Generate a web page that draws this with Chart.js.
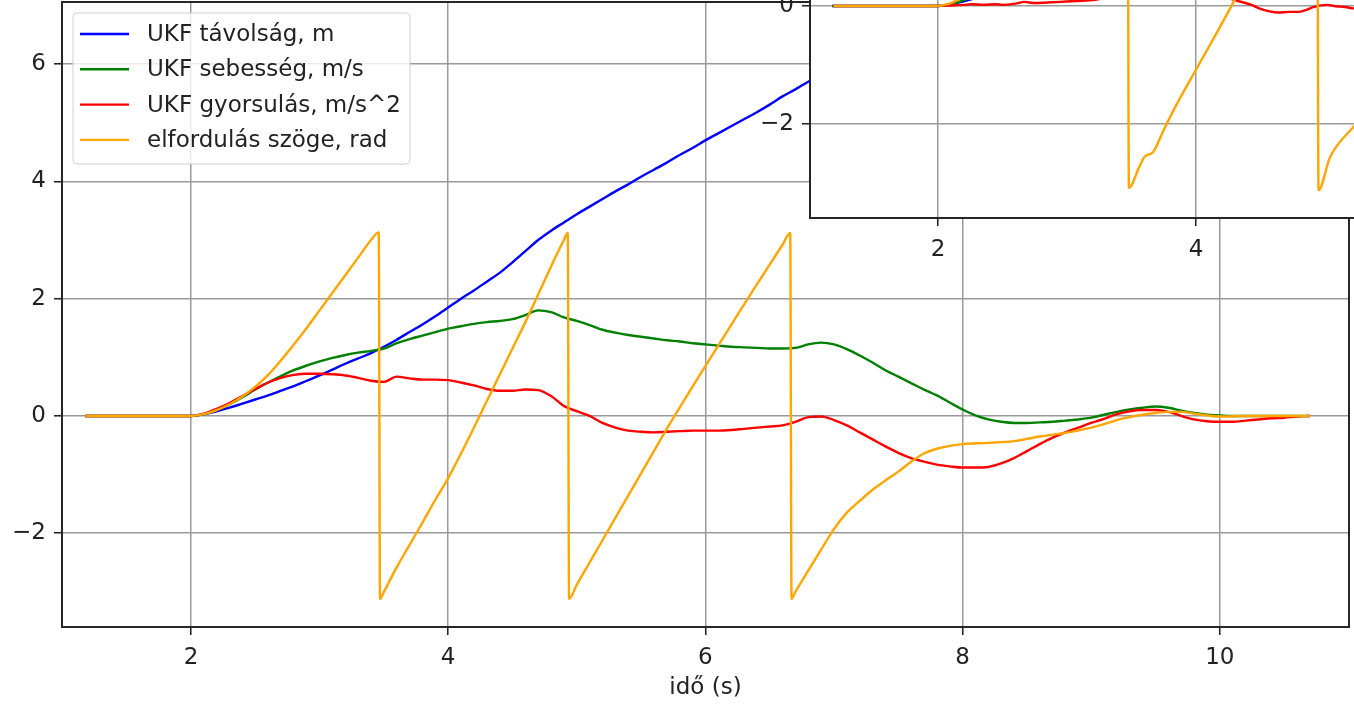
<!DOCTYPE html>
<html>
<head>
<meta charset="utf-8">
<title>UKF</title>
<script src="https://cdn.jsdelivr.net/npm/chart.js@4.4.1/dist/chart.umd.min.js"></script>
<style>
    html, body { margin: 0; padding: 0; background: #fff; overflow: hidden; }
    #wrap { position: relative; width: 1354px; height: 704px; overflow: hidden; }
    #mainChart { position: absolute; left: 0; top: 0; }
    #insetChart { position: absolute; left: 760px; top: -4px; }
</style>
</head>
<body>
<div id="wrap">
    <canvas id="mainChart" width="1354" height="704"></canvas>
    <canvas id="insetChart" width="620" height="262"></canvas>
</div>
<script>
// ---- data ----
const labels = ["UKF távolság, m", "UKF sebesség, m/s", "UKF gyorsulás, m/s^2", "elfordulás szöge, rad"];

const time = [1.18,
    2.0, 2.1, 2.2, 2.3, 2.4, 2.5, 2.6, 2.7, 2.8, 2.9,
    3.0, 3.1, 3.2, 3.3, 3.4, 3.5, 3.6, 3.7, 3.8, 3.9,
    4.0, 4.1, 4.2, 4.3, 4.4, 4.5, 4.6, 4.7, 4.8, 4.9,
    5.0, 5.1, 5.2, 5.3, 5.4, 5.5, 5.6, 5.7, 5.8, 5.9,
    6.0, 6.1, 6.2, 6.3, 6.4, 6.5, 6.6, 6.7, 6.8, 6.9,
    7.0, 7.1, 7.2, 7.3, 7.4, 7.5, 7.6, 7.7, 7.8, 7.9,
    8.0, 8.1, 8.2, 8.3, 8.4, 8.5, 8.6, 8.7, 8.8, 8.9,
    9.0, 9.1, 9.2, 9.3, 9.4, 9.5, 9.6, 9.7, 9.8, 9.9,
    10.0, 10.1, 10.2, 10.3, 10.4, 10.5, 10.6, 10.7];

const distance = [0,
    0, 0.03, 0.08, 0.14, 0.21, 0.28, 0.35, 0.43, 0.51, 0.6,
    0.69, 0.79, 0.89, 0.98, 1.07, 1.18, 1.3, 1.43, 1.56, 1.7,
    1.85, 2.0, 2.14, 2.29, 2.44, 2.62, 2.81, 3.0, 3.16, 3.3,
    3.44, 3.57, 3.7, 3.83, 3.95, 4.08, 4.2, 4.32, 4.45, 4.57,
    4.7, 4.82, 4.94, 5.06, 5.18, 5.31, 5.45, 5.57, 5.7, 5.83,
    5.95, 6.06, 6.16, 6.25, 6.32, 6.38, 6.43, 6.47, 6.5, 6.52,
    6.53, 6.53, 6.52, 6.51, 6.5, 6.49, 6.48, 6.47, 6.46, 6.46,
    6.46, 6.46, 6.47, 6.48, 6.5, 6.51, 6.53, 6.54, 6.54, 6.54,
    6.54, 6.54, 6.54, 6.54, 6.54, 6.54, 6.54, 6.54];

const speed = [0,
    0, 0.03, 0.1, 0.2, 0.32, 0.45, 0.57, 0.68, 0.78, 0.86,
    0.93, 0.99, 1.04, 1.08, 1.11, 1.15, 1.24, 1.31, 1.37, 1.43,
    1.49, 1.53, 1.57, 1.6, 1.62, 1.65, 1.72, 1.8, 1.77, 1.68,
    1.62, 1.55, 1.47, 1.42, 1.38, 1.35, 1.32, 1.29, 1.27, 1.24,
    1.22, 1.2, 1.18, 1.17, 1.16, 1.15, 1.15, 1.16, 1.22, 1.25,
    1.22, 1.14, 1.03, 0.91, 0.78, 0.67, 0.56, 0.45, 0.35, 0.23,
    0.11, 0.01, -0.06, -0.1, -0.12, -0.12, -0.11, -0.1, -0.08, -0.06,
    -0.03, 0.02, 0.07, 0.11, 0.14, 0.16, 0.14, 0.09, 0.05, 0.02,
    0.01, 0, 0, 0, 0, 0, 0, 0];

const accel = [0,
    0, 0.04, 0.12, 0.22, 0.34, 0.46, 0.57, 0.65, 0.7, 0.72,
    0.72, 0.71, 0.69, 0.65, 0.6, 0.58, 0.67, 0.64, 0.62, 0.62,
    0.61, 0.57, 0.52, 0.46, 0.43, 0.43, 0.45, 0.44, 0.34, 0.17,
    0.08, 0, -0.12, -0.2, -0.25, -0.27, -0.28, -0.27, -0.26, -0.25,
    -0.25, -0.25, -0.24, -0.22, -0.2, -0.18, -0.16, -0.1, -0.02, -0.01,
    -0.07, -0.16, -0.28, -0.4, -0.52, -0.63, -0.72, -0.78, -0.83, -0.86,
    -0.88, -0.88, -0.87, -0.81, -0.72, -0.6, -0.48, -0.37, -0.28, -0.2,
    -0.12, -0.05, 0.03, 0.08, 0.1, 0.1, 0.07, 0, -0.06, -0.09,
    -0.1, -0.1, -0.08, -0.06, -0.04, -0.03, -0.01, 0];

const angleTime = [1.18, 2.0, 2.1, 2.2, 2.3, 2.4, 2.5, 2.6, 2.7, 2.8, 2.9, 3.0, 3.1, 3.2, 3.3, 3.4, 3.46,
    3.47, 3.5, 3.6, 3.7, 3.8, 3.9, 4.0, 4.1, 4.2, 4.3, 4.4, 4.5, 4.6, 4.7, 4.8, 4.9, 4.93,
    4.94, 5.0, 5.1, 5.2, 5.3, 5.4, 5.5, 5.6, 5.7, 5.8, 5.9, 6.0, 6.1, 6.2, 6.3, 6.4, 6.5, 6.6, 6.66,
    6.67, 6.7, 6.8, 6.9, 7.0, 7.1, 7.2, 7.3, 7.4, 7.5, 7.6, 7.7, 7.8, 7.9, 8.0,
    8.2, 8.4, 8.6, 8.8, 9.0, 9.1, 9.2, 9.3, 9.4, 9.5, 9.6, 9.7, 9.8, 9.9, 10.0, 10.2, 10.4, 10.7];

const angle = [0, 0, 0.03, 0.1, 0.2, 0.33, 0.5, 0.7, 0.95, 1.22, 1.5, 1.8, 2.1, 2.4, 2.7, 3.0, 3.13,
    -3.12, -3.0, -2.58, -2.2, -1.82, -1.43, -1.06, -0.64, -0.2, 0.25, 0.7, 1.15, 1.6, 2.07, 2.55, 3.0, 3.12,
    -3.12, -2.88, -2.5, -2.12, -1.74, -1.36, -0.98, -0.6, -0.22, 0.14, 0.5, 0.85, 1.2, 1.55, 1.9, 2.24, 2.58, 2.92, 3.12,
    -3.12, -3.0, -2.64, -2.28, -1.93, -1.65, -1.45, -1.26, -1.1, -0.95, -0.78, -0.64, -0.56, -0.51, -0.48,
    -0.46, -0.43, -0.35, -0.29, -0.2, -0.14, -0.07, -0.02, 0.02, 0.05, 0.07, 0.07, 0.04, 0.01, -0.01, 0, 0, 0];

// the small window in the top right corner (another run)
const insetAccelTime = [1.19, 2.0, 2.1, 2.2, 2.26, 2.35, 2.45, 2.5, 2.6, 2.67,
    2.75, 2.85, 2.95, 3.03, 3.12, 3.2, 3.3, 3.6, 4.0, 4.3,
    4.43, 4.5, 4.57, 4.64, 4.72, 4.79, 4.85, 4.91, 4.97, 5.02,
    5.07, 5.12, 5.17, 5.22, 5.3, 5.4];
const insetAccel = [0, 0, 0.01, 0.02, 0.03, 0.02, 0.03, 0.02, 0.04, 0.07,
    0.05, 0.06, 0.07, 0.08, 0.09, 0.1, 0.14, 0.3, 0.3, 0.1,
    0.02, -0.05, -0.09, -0.11, -0.1, -0.1, -0.07, -0.02, 0.01, 0.02,
    0, -0.01, -0.02, -0.04, -0.03, -0.02];

const insetAngleTime = [1.19, 2.0, 2.05, 2.1, 2.15, 2.3, 3.47, 3.48, 3.56, 3.6, 3.67,
    3.75, 3.84, 4.0, 4.16, 4.3, 4.5, 4.94, 4.95, 5.04, 5.22, 5.4];
const insetAngle = [0, 0, 0.02, 0.05, 0.1, 0.25, 3.1, -3.08, -2.73, -2.56, -2.47,
    -2.1, -1.71, -1.08, -0.46, 0.1, 0.9, 3.1, -3.12, -2.56, -2.05, -1.6];

const xTicks = [2, 4, 6, 8, 10];
const yTicks = [-2, 0, 2, 4, 6];
const insetXTicks = [2, 4];
const insetYTicks = [-2, 0];

// ---- styling ----
const colors = ["#0000ff", "#008000", "#ff0000", "#ffa500"];
const FONT = { family: "'DejaVu Sans', sans-serif", size: 23 };
const TEXT = "#222222";
const GRID = "#9a9a9a";
const SPINE = "#262626";

function points(xs, ys) {
    return xs.map((x, i) => ({ x: x, y: ys[i] }));
}

function fmt(v) {
    return v < 0 ? "\u2212" + Math.abs(v) : String(v);
}

function series(label, i, data) {
    return {
        label: label,
        data: data,
        borderColor: colors[i],
        borderWidth: 2.4,
        pointRadius: 0,
        fill: false,
        cubicInterpolationMode: "monotone",
        order: 4 - i,
    };
}

function makeScale(ticks, min, max, size, horizontal, pad) {
    return {
        type: "linear",
        min: min,
        max: max,
        afterBuildTicks: (s) => { s.ticks = ticks.map((v) => ({ value: v })); },
        afterFit: (s) => {
            // fixed axis boxes, no extra room for edge labels
            if (horizontal) { s.height = size; s.paddingLeft = 0; s.paddingRight = 0; }
            else { s.width = size; s.paddingTop = 0; s.paddingBottom = 0; }
        },
        grid: { color: GRID, lineWidth: 1.5, tickColor: SPINE, tickWidth: 1.6, tickLength: 8 },
        border: { display: false },
        ticks: { font: FONT, color: TEXT, padding: pad, maxRotation: 0, autoSkip: false,
            callback: (v) => fmt(v) },
    };
}

const frame = {
    id: "frame",
    afterDatasetsDraw(chart) {
        const { ctx, chartArea: a } = chart;
        ctx.save();
        ctx.strokeStyle = SPINE;
        ctx.lineWidth = 2;
        ctx.strokeRect(a.left, a.top, a.right - a.left, a.bottom - a.top);
        ctx.restore();
    },
};

const pageBackground = {
    id: "pageBackground",
    beforeDraw(chart) {
        const ctx = chart.ctx;
        ctx.save();
        ctx.fillStyle = "#ffffff";
        ctx.fillRect(0, 0, chart.width, chart.height);
        ctx.restore();
    },
};

const areaBackground = {
    id: "areaBackground",
    beforeDraw(chart) {
        const { ctx, chartArea: a } = chart;
        ctx.save();
        ctx.fillStyle = "#ffffff";
        ctx.fillRect(a.left, a.top, a.right - a.left, a.bottom - a.top);
        ctx.restore();
    },
};

// matplotlib style legend box, upper left
const boxLegend = {
    id: "boxLegend",
    afterDraw(chart) {
        const { ctx, chartArea: a } = chart;
        const x = a.left + 11, y = a.top + 11, w = 337, h = 151, r = 4;
        ctx.save();
        ctx.beginPath();
        ctx.roundRect(x, y, w, h, r);
        ctx.fillStyle = "rgba(255,255,255,0.8)";
        ctx.fill();
        ctx.strokeStyle = "#d0d0d0";
        ctx.lineWidth = 1;
        ctx.stroke();
        ctx.font = FONT.size + "px " + FONT.family;
        ctx.textBaseline = "middle";
        ctx.fillStyle = TEXT;
        chart.data.datasets.forEach((ds, i) => {
            const ly = y + 21 + i * 35.3;
            ctx.beginPath();
            ctx.moveTo(x + 7, ly);
            ctx.lineTo(x + 56, ly);
            ctx.strokeStyle = ds.borderColor;
            ctx.lineWidth = 2.4;
            ctx.stroke();
            ctx.fillText(ds.label, x + 74, ly + 1);
        });
        ctx.restore();
    },
};

const baseOptions = {
    responsive: false,
    animation: false,
    plugins: { legend: { display: false }, tooltip: { enabled: false } },
};

// main chart
const mainScaleX = makeScale(xTicks, 0.997, 11.005, 77, true, 9);
mainScaleX.title = { display: true, text: "idő (s)", font: FONT, color: TEXT, padding: { top: 2, bottom: 2 } };

new Chart(document.getElementById("mainChart"), {
    type: "line",
    data: {
        datasets: [
            series(labels[0], 0, points(time, distance)),
            series(labels[1], 1, points(time, speed)),
            series(labels[2], 2, points(time, accel)),
            series(labels[3], 3, points(angleTime, angle)),
        ],
    },
    options: Object.assign({}, baseOptions, {
        layout: { padding: { left: 0, top: 2, right: 5, bottom: 0 } },
        scales: {
            x: mainScaleX,
            y: makeScale(yTicks, -3.6, 7.06, 62, false, 8),
        },
    }),
    plugins: [pageBackground, frame, boxLegend],
});

// inset chart
new Chart(document.getElementById("insetChart"), {
    type: "line",
    data: {
        datasets: [
            series(labels[0], 0, points(time, distance)),
            series(labels[1], 1, points(time, speed)),
            series(labels[2], 2, points(insetAccelTime, insetAccel)),
            series(labels[3], 3, points(insetAngleTime, insetAngle)),
        ],
    },
    options: Object.assign({}, baseOptions, {
        layout: { padding: { left: 0, top: 3, right: 5, bottom: 0 } },
        scales: {
            x: makeScale(insetXTicks, 1.008, 5.388, 40, true, 10),
            y: makeScale(insetYTicks, -3.593, 0.119, 50, false, 8),
        },
    }),
    plugins: [areaBackground, frame],
});
</script>
</body>
</html>
